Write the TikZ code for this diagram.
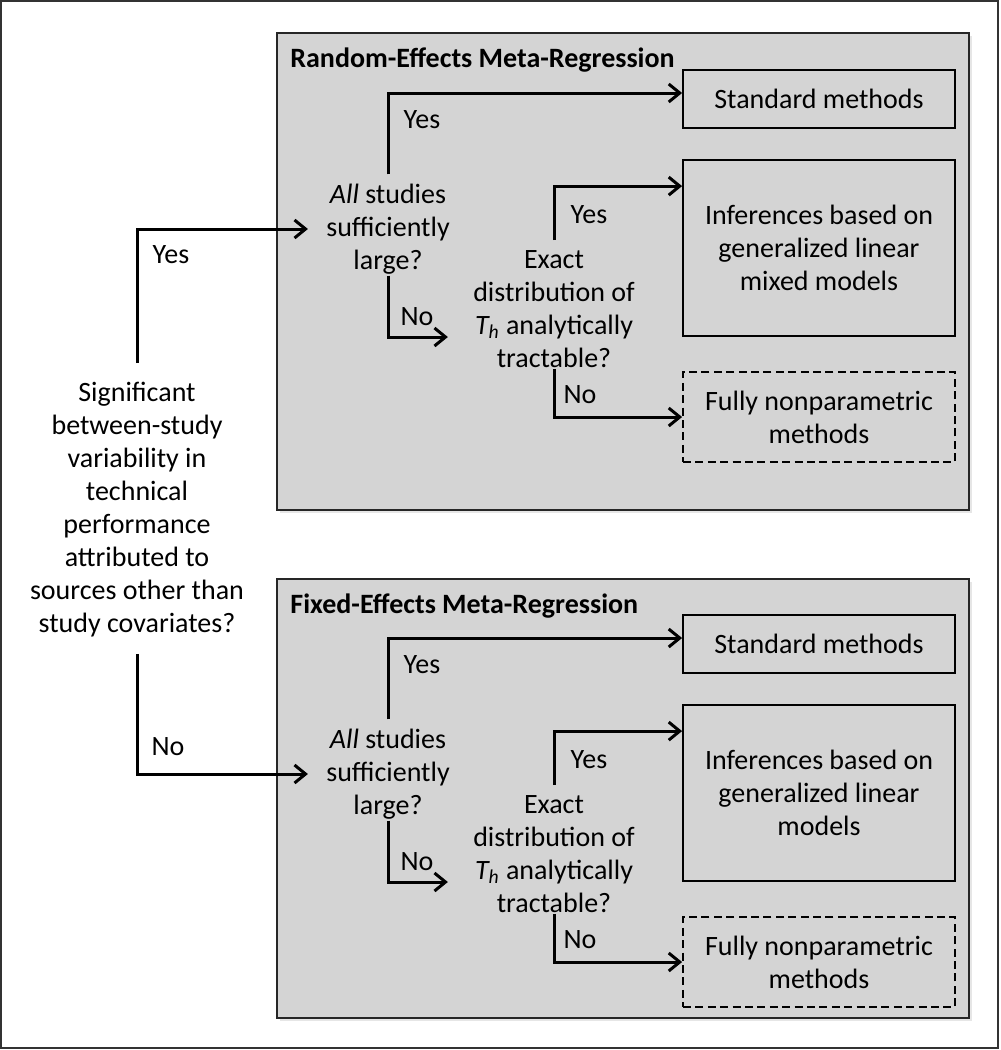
\documentclass[tikz,border=0pt]{standalone}
\usepackage{fontspec}
\setmainfont{Carlito}
\usetikzlibrary{arrows.meta,calc}
\definecolor{panelgray}{HTML}{D4D4D4}
\definecolor{shadowgray}{HTML}{E6E6E6}
\tikzset{
  txt/.style={align=center, inner sep=0pt, font=\fontsize{14}{16.5}\selectfont},
  lbl/.style={inner sep=0pt, font=\fontsize{14}{16.5}\selectfont},
  ttl/.style={anchor=west, inner sep=0pt, font=\fontsize{14}{16.5}\selectfont\bfseries},
  outcome/.style={draw, line width=0.9pt, minimum width=136pt, align=center, font=\fontsize{14}{16.5}\selectfont},
  flow/.style={line width=1.5pt, -{Straight Barb[length=5.5pt,width=9pt]}},
  panel/.style={fill=panelgray, draw=black!85, line width=1pt},
}
\begin{document}
\begin{tikzpicture}[x=0.5pt,y=-0.5pt]
  \useasboundingbox (0,0) rectangle (1001,1050);
  \draw[black!80, line width=1pt] (1,1) rectangle (998,1048);
  \fill[shadowgray] (280,36) rectangle (972,513);
  \draw[panel] (277,33) rectangle (969,510);
  \fill[shadowgray] (280,582) rectangle (972,1021);
  \draw[panel] (277,579) rectangle (969,1018);

  \node[txt] (sig) at (137,510) {Significant\\between-study\\variability in\\technical\\performance\\attributed to\\sources other than\\study covariates?};

  \node[ttl] (titleR) at (290,60) {Random-Effects Meta-Regression};
  \node[txt] (allR) at (388,229) {\textit{All} studies\\sufficiently\\large?};
  \node[txt] (exR) at (554,309) {Exact\\distribution of\\\textit{T\textsubscript{h}} analytically\\tractable?};
  \node[outcome, minimum height=29pt] (stdR) at (819,99) {Standard methods};
  \node[outcome, minimum height=88pt] (infR) at (819,248) {Inferences based on\\generalized linear\\mixed models};
  \node[outcome, dash pattern=on 4pt off 2.2pt, minimum height=45pt] (npR) at (819,417) {Fully nonparametric\\methods};

  \node[ttl] (titleF) at (290,606) {Fixed-Effects Meta-Regression};
  \node[txt] (allF) at (388,774) {\textit{All} studies\\sufficiently\\large?};
  \node[txt] (exF) at (554,854) {Exact\\distribution of\\\textit{T\textsubscript{h}} analytically\\tractable?};
  \node[outcome, minimum height=29pt] (stdF) at (819,644) {Standard methods};
  \node[outcome, minimum height=88pt] (infF) at (819,793) {Inferences based on\\generalized linear\\models};
  \node[outcome, dash pattern=on 4pt off 2.2pt, minimum height=45pt] (npF) at (819,962) {Fully nonparametric\\methods};

  \draw[flow, shorten <=9.5pt, shorten >=9pt] (sig.north) |- (allR.west);
  \draw[flow, shorten <=8pt, shorten >=9pt] (sig.south) |- (allF.west);

  \draw[flow, shorten <=4.5pt] (allR.north) |- ($(stdR.west)+(0,-6)$);
  \draw[flow, shorten <=0.5pt] (allR.south) |- ($(exR.west)+(-25,28)$);
  \draw[flow, shorten <=5pt] (exR.north) |- ($(infR.north west)+(0,27)$);
  \draw[flow, shorten <=0.5pt] (exR.south) |- (npR.west);

  \draw[flow, shorten <=4.5pt] (allF.north) |- ($(stdF.west)+(0,-6)$);
  \draw[flow, shorten <=0.5pt] (allF.south) |- ($(exF.west)+(-25,28)$);
  \draw[flow, shorten <=5pt] (exF.north) |- ($(infF.north west)+(0,27)$);
  \draw[flow, shorten <=0.5pt] (exF.south) |- (npF.west);

  \node[lbl] (yesS) at (171,255) {Yes};
  \node[lbl] (noS) at (168,747) {No};
  \node[lbl] (yesR1) at (422,120) {Yes};
  \node[lbl] (noR1) at (417,317) {No};
  \node[lbl] (yesR2) at (589,215) {Yes};
  \node[lbl] (noR2) at (580,395) {No};
  \node[lbl] (yesF1) at (422,665) {Yes};
  \node[lbl] (noF1) at (417,862) {No};
  \node[lbl] (yesF2) at (589,760) {Yes};
  \node[lbl] (noF2) at (580,940) {No};
\end{tikzpicture}
\end{document}
